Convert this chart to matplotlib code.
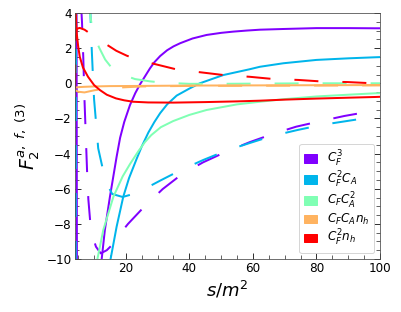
import matplotlib
matplotlib.use("Agg")
import matplotlib.pyplot as plt
import matplotlib.patches as mpatches
from matplotlib.ticker import MultipleLocator

# colour factor labels
labels = [r"$C_F^3$", r"$C_F^2C_A$", r"$C_FC_A^2$", r"$C_FC_An_h$", r"$C_F^2n_h$"]
colors = ["#8000ff", "#00b5eb", "#80ffb4", "#ffb360", "#ff0000"]

# C_F^3
s_cf3 = [4.3, 4.75, 10, 12.4, 13.4, 15, 17.1, 18.2, 19.5, 21.3, 23, 24.5, 27.6, 29, 30.8, 33, 35, 37.1, 41, 45.4, 50, 53.8, 58, 62.2, 69.6, 80, 90, 98.4, 100]
re_cf3 = [30, -30, -16, -10, -8.35, -6.45, -4.18, -3.1, -2.2, -1.24, -0.55, -0.05, 0.85, 1.2, 1.55, 1.88, 2.1, 2.28, 2.55, 2.75, 2.87, 2.94, 3.0, 3.05, 3.09, 3.14, 3.14, 3.13, 3.13]
s_cf3_i = [5.9, 6.2, 6.6, 7.0, 7.4, 7.8, 8.2, 8.8, 9.7, 10.6, 12.1, 14, 15.9, 18, 20.7, 25.7, 31.6, 37.6, 44.3, 51.5, 59, 66, 73.6, 80.9, 88.8, 96.3, 100]
im_cf3 = [4.5, 3.5, 1.5, -1.0, -3.0, -5.0, -6.6, -7.9, -8.8, -9.3, -9.68, -9.5, -9.16, -8.6, -8.0, -7.04, -6.02, -5.18, -4.5, -3.9, -3.35, -2.9, -2.47, -2.17, -1.86, -1.62, -1.5]

# C_F^2 C_A
s_cf2ca = [14, 15.2, 17.1, 19.2, 21, 23.4, 25, 27.1, 29, 30.8, 33, 36, 40, 43.3, 50.7, 59, 62.2, 69.6, 80, 90, 98.4, 100]
re_cf2ca = [-12, -10, -8.16, -6.45, -5.4, -4.3, -3.6, -2.8, -2.2, -1.7, -1.2, -0.7, -0.3, 0.0, 0.47, 0.8, 0.94, 1.14, 1.33, 1.42, 1.48, 1.49]
s_cf2ca_i = [4.02, 4.5, 8.75, 9.0, 9.3, 9.6, 10.0, 10.7, 11.3, 12.9, 14, 15.7, 19, 23.5, 30.8, 37.3, 44.3, 51.5, 59, 66, 74, 81.6, 89.5, 97, 100]
im_cf2ca = [-40, 30, 4.5, 3.2, 1.8, 0.6, -0.9, -2.4, -3.7, -5.0, -5.7, -6.3, -6.47, -6.24, -5.54, -4.94, -4.37, -3.84, -3.4, -3.0, -2.66, -2.37, -2.15, -1.94, -1.88]

# C_F C_A^2
s_cfca2 = [10.5, 11.1, 12.9, 16.1, 19, 21.3, 24, 26, 28, 31, 34.9, 40, 45.4, 55, 62.2, 70, 80, 90, 98.4, 100]
re_cfca2 = [-11, -9.96, -8.35, -6.45, -5.3, -4.6, -3.85, -3.35, -2.95, -2.5, -2.15, -1.8, -1.52, -1.2, -1.05, -0.9, -0.75, -0.65, -0.57, -0.56]
s_cfca2_i = [8.3, 8.7, 9.2, 10, 11.6, 13.5, 15.5, 18, 22.9, 27.6, 32, 40, 50, 60, 70, 80, 90, 100]
im_cfca2 = [5, 4.0, 3.4, 2.7, 2.03, 1.35, 0.89, 0.55, 0.24, 0.11, 0.03, -0.03, -0.03, -0.02, -0.01, 0.0, 0.0, 0.0]

# C_F C_A n_h
s_nh1 = [4.02, 5, 7, 10, 15, 25, 40, 60, 80, 100]
re_nh1 = [-0.25, -0.22, -0.2, -0.18, -0.16, -0.15, -0.13, -0.12, -0.11, -0.1]
im_nh1 = [-0.38, -0.48, -0.52, -0.4, -0.27, -0.18, -0.15, -0.14, -0.13, -0.12]

# C_F^2 n_h
s_nh2 = [4.1, 4.25, 4.5, 5, 5.5, 6.5, 8.1, 10, 11.8, 14, 16.9, 19.5, 22.3, 27, 34.9, 45, 55, 62.2, 70, 80, 90, 98.4, 100]
re_nh2 = [6, 4, 2.9, 2.1, 1.51, 0.9, 0.37, -0.1, -0.38, -0.65, -0.86, -0.97, -1.05, -1.09, -1.1, -1.07, -1.03, -0.99, -0.93, -0.87, -0.82, -0.78, -0.77]
s_nh2_i = [4.02, 4.2, 4.5, 5.5, 7, 9, 11, 13.8, 17, 20.3, 24, 28.1, 35.5, 43.3, 50.7, 59, 66, 74.3, 81.9, 89.8, 97.7, 100]
im_nh2 = [-0.3, 2.5, 3.1, 3.15, 3.05, 2.8, 2.5, 2.22, 1.85, 1.57, 1.33, 1.14, 0.81, 0.63, 0.47, 0.37, 0.25, 0.19, 0.1, 0.07, 0.0, -0.02]

plt.rcParams["mathtext.fontset"] = "dejavusans"
fig = plt.figure(figsize=(401 / 72, 312 / 72), dpi=72)
ax = fig.add_axes([75 / 401, 1 - 259 / 312, 305 / 401, 246 / 312])

dash = (0, (12, 12))
ax.plot(s_cf3, re_cf3, color=colors[0], lw=2)
ax.plot(s_cf3_i, im_cf3, color=colors[0], lw=2, linestyle=dash)
ax.plot(s_cf2ca, re_cf2ca, color=colors[1], lw=2)
ax.plot(s_cf2ca_i, im_cf2ca, color=colors[1], lw=2, linestyle=dash)
ax.plot(s_cfca2, re_cfca2, color=colors[2], lw=2)
ax.plot(s_cfca2_i, im_cfca2, color=colors[2], lw=2, linestyle=dash)
ax.plot(s_nh1, re_nh1, color=colors[3], lw=2)
ax.plot(s_nh1, im_nh1, color=colors[3], lw=2, linestyle=dash)
ax.plot(s_nh2, re_nh2, color=colors[4], lw=2)
ax.plot(s_nh2_i, im_nh2, color=colors[4], lw=2, linestyle=dash)

ax.set_xlim(4, 100)
ax.set_ylim(-10, 4)
ax.xaxis.set_major_locator(MultipleLocator(20))
ax.xaxis.set_minor_locator(MultipleLocator(5))
ax.yaxis.set_major_locator(MultipleLocator(2))
ax.yaxis.set_minor_locator(MultipleLocator(0.5))
ax.tick_params(which="both", direction="in", right=True, top=False, labelsize=12)
ax.tick_params(which="major", length=6)
ax.tick_params(which="minor", length=4)
for sp in ax.spines.values():
    sp.set_color("0.3")

ax.set_xlabel(r"$s/m^2$", fontsize=18)
ax.set_ylabel(r"$F_2^{a,\ f,\ (3)}$", fontsize=19)

handles = [mpatches.Patch(color=c, label=l) for c, l in zip(colors, labels)]
ax.legend(handles=handles, loc="lower right", fontsize=12, handlelength=1.1, labelspacing=0.08)

fig.savefig("out.png", dpi=72)
